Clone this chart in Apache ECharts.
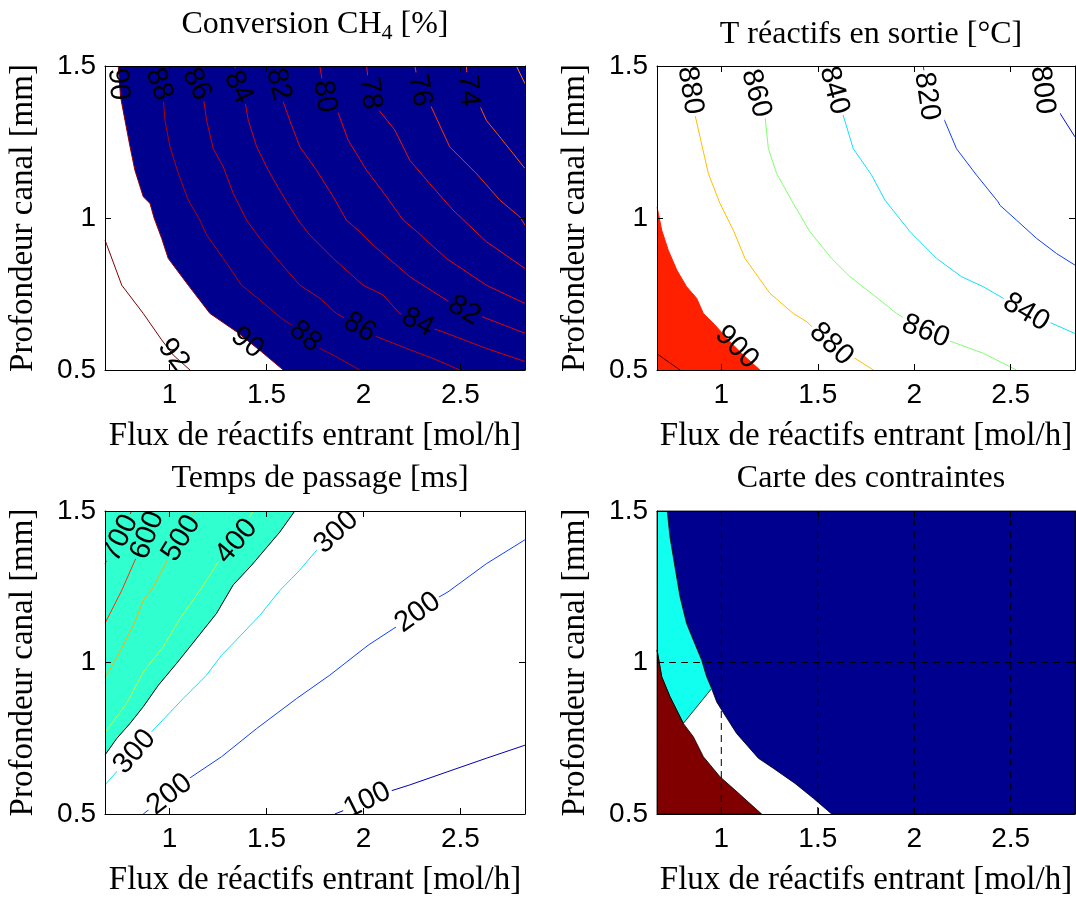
<!DOCTYPE html>
<html>
<head>
<meta charset="utf-8">
<title>Carte des contraintes</title>
<script src="https://cdn.jsdelivr.net/npm/echarts@6/dist/echarts.min.js"></script>
<style>
html, body { margin: 0; padding: 0; background: #fff; }
#chart { width: 1076px; height: 899px; }
</style>
</head>
<body>
<div id="chart"></div>
<script>
// axes (same for the 4 plots)
var xRange = [2 / 3, 17 / 6];
var yRange = [0.5, 1.5];
var xTicks = [1, 1.5, 2, 2.5];
var yTicks = [0.5, 1, 1.5];

// Conversion CH4 [%]
var convLevels = [92, 90, 88, 86, 84, 82, 80, 78, 76, 74, 72];
var convLines = [
  [[0.667,0.927],[0.753,0.779],[0.864,0.686],[0.959,0.599],[1.019,0.549],[1.105,0.5]],
  [[0.735,1.5],[0.747,1.398],[0.770,1.321],[0.796,1.234],[0.821,1.157],[0.864,1.070],[0.899,1.048],[0.920,1.0],[0.959,0.933],[0.993,0.867],[1.096,0.779],[1.208,0.686],[1.345,0.626],[1.474,0.560],[1.586,0.5]],
  [[0.924,1.5],[0.942,1.442],[0.967,1.398],[0.976,1.321],[1.002,1.234],[1.045,1.146],[1.096,1.059],[1.156,0.993],[1.191,0.944],[1.277,0.867],[1.371,0.779],[1.466,0.730],[1.577,0.670],[1.655,0.637],[1.775,0.571],[1.844,0.549],[1.981,0.5]],
  [[1.131,1.5],[1.139,1.442],[1.174,1.398],[1.191,1.321],[1.225,1.228],[1.277,1.168],[1.328,1.081],[1.397,0.993],[1.466,0.933],[1.552,0.867],[1.672,0.779],[1.775,0.736],[1.861,0.686],[1.981,0.640],[2.067,0.610],[2.222,0.571],[2.359,0.538],[2.497,0.5]],
  [[1.337,1.5],[1.354,1.431],[1.388,1.387],[1.406,1.321],[1.449,1.234],[1.509,1.157],[1.577,1.081],[1.663,0.993],[1.723,0.944],[1.844,0.867],[1.998,0.779],[2.101,0.747],[2.187,0.686],[2.282,0.655],[2.428,0.621],[2.634,0.571],[2.833,0.528]],
  [[1.552,1.5],[1.560,1.442],[1.577,1.398],[1.620,1.321],[1.672,1.234],[1.758,1.157],[1.844,1.070],[1.912,0.993],[1.981,0.955],[2.050,0.911],[2.239,0.807],[2.428,0.730],[2.522,0.695],[2.634,0.670],[2.833,0.621]],
  [[1.775,1.5],[1.801,1.398],[1.861,1.360],[1.921,1.256],[2.016,1.157],[2.119,1.070],[2.205,0.993],[2.256,0.966],[2.428,0.867],[2.634,0.779],[2.833,0.719]],
  [[2.016,1.5],[2.033,1.409],[2.067,1.365],[2.162,1.289],[2.239,1.190],[2.342,1.113],[2.462,1.026],[2.634,0.922],[2.833,0.834]],
  [[2.265,1.5],[2.290,1.420],[2.342,1.376],[2.445,1.234],[2.583,1.146],[2.703,1.059],[2.806,1.004],[2.833,0.977]],
  [[2.531,1.5],[2.540,1.420],[2.583,1.393],[2.634,1.321],[2.703,1.267],[2.772,1.212],[2.833,1.163]],
  [[2.789,1.5],[2.833,1.442]]
];
var convLabels = [
  [0.735,1.44,90],[0.945,1.44,88],[1.14,1.44,86],[1.354,1.43,84],[1.562,1.44,82],
  [1.80,1.40,80],[2.035,1.41,78],[2.29,1.42,76],[2.54,1.42,74],
  [1.02,0.55,92],[1.40,0.59,90],[1.70,0.61,88],[1.98,0.64,86],[2.28,0.657,84],[2.52,0.696,82]
];

// T réactifs en sortie [°C]
var tempLevels = [920, 900, 880, 860, 840, 820, 800];
var tempLines = [
  [[0.667,0.553],[0.786,0.5]],
  [[0.667,1.036],[0.691,0.960],[0.725,0.894],[0.769,0.829],[0.820,0.774],[0.872,0.736],[0.907,0.686],[0.967,0.648],[1.045,0.593],[1.114,0.549],[1.200,0.5]],
  [[0.824,1.5],[0.864,1.338],[0.933,1.146],[0.993,1.048],[1.062,0.960],[1.123,0.867],[1.252,0.752],[1.373,0.686],[1.442,0.659],[1.572,0.582],[1.667,0.549],[1.788,0.5]],
  [[1.157,1.5],[1.226,1.338],[1.244,1.228],[1.287,1.146],[1.373,1.048],[1.459,0.955],[1.572,0.867],[1.667,0.807],[1.788,0.747],[1.909,0.686],[2.055,0.626],[2.168,0.599],[2.358,0.555],[2.530,0.5]],
  [[1.563,1.5],[1.624,1.354],[1.684,1.228],[1.779,1.141],[1.848,1.059],[1.978,0.955],[2.047,0.911],[2.116,0.867],[2.245,0.807],[2.358,0.774],[2.461,0.736],[2.582,0.690],[2.677,0.664],[2.833,0.620]],
  [[2.047,1.5],[2.073,1.387],[2.150,1.332],[2.219,1.228],[2.323,1.141],[2.435,1.053],[2.444,1.042],[2.530,0.993],[2.634,0.933],[2.738,0.883],[2.833,0.845]],
  [[2.651,1.5],[2.668,1.415],[2.746,1.354],[2.833,1.267]]
];
var tempLabels = [
  [0.838,1.42,880],[1.18,1.41,860],[1.585,1.42,840],[2.065,1.40,820],[2.665,1.42,800],
  [1.08,0.575,900],[1.57,0.585,880],[2.06,0.627,860],[2.58,0.69,840]
];

// Temps de passage [ms]
var passLevels = [700, 600, 500, 400, 300, 200, 100];
var passLines = [
  [[0.667,1.326],[0.735,1.414],[0.804,1.5]],
  [[0.667,1.130],[0.753,1.238],[0.821,1.337],[0.881,1.414],[0.924,1.486],[0.942,1.5]],
  [[0.667,0.950],[0.744,1.035],[0.821,1.134],[0.864,1.205],[0.916,1.249],[0.993,1.343],[1.062,1.414],[1.105,1.475],[1.131,1.5]],
  [[0.667,0.770],[0.778,0.865],[0.864,0.969],[0.967,1.052],[1.053,1.145],[1.156,1.238],[1.251,1.332],[1.345,1.403],[1.397,1.464],[1.431,1.5]],
  [[0.667,0.596],[0.899,0.766],[1.070,0.881],[1.190,0.958],[1.268,1.024],[1.311,1.052],[1.466,1.156],[1.569,1.238],[1.663,1.299],[1.758,1.370],[1.861,1.431],[1.955,1.5]],
  [[0.864,0.5],[1.088,0.612],[1.268,0.689],[1.449,0.782],[1.655,0.881],[1.826,0.958],[2.024,1.057],[2.196,1.129],[2.376,1.211],[2.436,1.233],[2.634,1.326],[2.833,1.405]],
  [[1.852,0.5],[2.016,0.541],[2.101,0.568],[2.239,0.596],[2.436,0.640],[2.634,0.684],[2.833,0.727]]
];
var passEdge = [[1.646,1.5],[1.569,1.431],[1.423,1.321],[1.328,1.256],[1.242,1.162],[1.105,1.052],[1.036,0.997],[0.942,0.925],[0.864,0.854],[0.796,0.799],[0.727,0.749],[0.667,0.695]];
var passLabels = [
  [0.745,1.41,700],[0.885,1.42,600],[1.06,1.41,500],[1.345,1.40,400],
  [0.82,0.705,300],[1.86,1.43,300],[1.0,0.565,200],[2.28,1.165,200],[2.02,0.545,100]
];

// Carte des contraintes
var mapBlueEdge = [[0.720,1.5],[0.734,1.414],[0.760,1.315],[0.786,1.217],[0.820,1.129],[0.855,1.074],[0.898,1.008],[0.924,0.953],[0.950,0.914],[0.976,0.870],[1.002,0.843],[1.079,0.766],[1.192,0.684],[1.269,0.651],[1.382,0.601],[1.477,0.552],[1.572,0.5]];
var mapRedEdge = [[0.667,1.041],[0.691,0.953],[0.734,0.887],[0.803,0.799],[0.855,0.755],[0.907,0.689],[0.993,0.623],[1.071,0.579],[1.209,0.5]];
var mapGridX = [1, 1.5, 2, 2.5];
var mapGridY = [1];

// ---- styles ----
var serif = '"Liberation Serif", "Times New Roman", serif';
var sans = '"Liberation Sans", Arial, sans-serif';
var navy = '#00008F';
var convColors = ['#800000', '#900000', '#B00000', '#C40000', '#D40000', '#E40000', '#F00000', '#FF0800', '#FF3000', '#FF5400', '#FF7800'];
var tempColors = ['#500000', '#FF2000', '#FFBF00', '#80FF70', '#10DFFF', '#1040FF', '#0010D0'];
var passColors = ['#F00000', '#FF3000', '#FFB000', '#C0FF40', '#10DFFF', '#1040FF', '#0000B0'];

var grids = [
  { left: 105, top: 66, width: 420, height: 304 },
  { left: 657, top: 66, width: 418, height: 304 },
  { left: 105, top: 511, width: 420, height: 303 },
  { left: 657, top: 511, width: 418, height: 303 }
];

var xAxes = [], yAxes = [];
grids.forEach(function (g, i) {
  var tick = { inside: true, length: 6, lineStyle: { color: '#000', width: 1 } };
  var line = { onZero: false, lineStyle: { color: '#000', width: 1 } };
  xAxes.push({
    gridIndex: i, type: 'value', min: xRange[0], max: xRange[1], position: 'bottom', z: 10,
    axisLine: line,
    axisTick: Object.assign({ customValues: xTicks }, tick),
    axisLabel: { customValues: xTicks, color: '#000', fontFamily: sans, fontSize: 28, margin: 11 },
    splitLine: { show: false },
    name: 'Flux de réactifs entrant [mol/h]', nameLocation: 'middle', nameGap: 50,
    nameTextStyle: { fontFamily: serif, fontSize: 33, color: '#000' }
  });
  xAxes.push({
    gridIndex: i, type: 'value', min: xRange[0], max: xRange[1], position: 'top', z: 10,
    axisLine: line,
    axisTick: Object.assign({ customValues: xTicks }, tick),
    axisLabel: { show: false }, splitLine: { show: false }
  });
  yAxes.push({
    gridIndex: i, type: 'value', min: yRange[0], max: yRange[1], interval: 0.5, position: 'left', z: 10,
    axisLine: line,
    axisTick: Object.assign({ customValues: yTicks }, tick),
    axisLabel: { customValues: yTicks, color: '#000', fontFamily: sans, fontSize: 28, margin: 9 },
    splitLine: { show: false },
    name: 'Profondeur canal [mm]', nameLocation: 'middle', nameGap: 65,
    nameTextStyle: { fontFamily: serif, fontSize: 33, color: '#000' }
  });
  yAxes.push({
    gridIndex: i, type: 'value', min: yRange[0], max: yRange[1], interval: 0.5, position: 'right', z: 10,
    axisLine: line,
    axisTick: Object.assign({ customValues: yTicks }, tick),
    axisLabel: { show: false }, splitLine: { show: false }
  });
});

function fillSeries(i, pts, color, stroke) {
  return {
    type: 'custom', xAxisIndex: 2 * i, yAxisIndex: 2 * i, z: 1, silent: true,
    data: [pts[0]],
    renderItem: function (params, api) {
      return {
        type: 'polygon',
        shape: { points: pts.map(function (p) { return api.coord(p); }) },
        style: { fill: color, stroke: stroke || null, lineWidth: 0.8 }
      };
    }
  };
}

function lineSeries(i, pts, color, width, dash) {
  return {
    type: 'line', xAxisIndex: 2 * i, yAxisIndex: 2 * i, z: 3, silent: true,
    data: pts, symbol: 'none', showSymbol: false, animation: false,
    lineStyle: { color: color, width: width || 1, type: dash || 'solid' }
  };
}

function segDist(p, a, b) {
  var dx = b[0] - a[0], dy = b[1] - a[1];
  var t = ((p[0] - a[0]) * dx + (p[1] - a[1]) * dy) / (dx * dx + dy * dy || 1);
  t = Math.max(0, Math.min(1, t));
  var qx = a[0] + t * dx - p[0], qy = a[1] + t * dy - p[1];
  return qx * qx + qy * qy;
}

// contour labels, turned along the nearest piece of their line
function labelSeries(i, lines, levels, labels, bgOf) {
  return {
    type: 'custom', xAxisIndex: 2 * i, yAxisIndex: 2 * i, z: 6, silent: true, clip: true,
    data: labels,
    renderItem: function (params, api) {
      var lev = api.value(2);
      var p = api.coord([api.value(0), api.value(1)]);
      var best = null, bd = Infinity;
      lines.forEach(function (ln, k) {
        if (levels[k] !== lev) return;
        for (var j = 0; j < ln.length - 1; j++) {
          var a = api.coord(ln[j]), b = api.coord(ln[j + 1]);
          var d = segDist(p, a, b);
          if (d < bd) { bd = d; best = [a, b]; }
        }
      });
      var ang = Math.atan2(-(best[1][1] - best[0][1]), best[1][0] - best[0][0]);
      if (ang > Math.PI / 2) ang -= Math.PI;
      if (ang < -Math.PI / 2) ang += Math.PI;
      return {
        type: 'text', x: p[0], y: p[1], rotation: ang,
        style: {
          text: String(lev), font: '29px ' + sans, fill: '#000',
          align: 'center', verticalAlign: 'middle',
          backgroundColor: bgOf(lev), padding: [0, 2]
        }
      };
    }
  };
}

var series = [];
// plot 1
series.push(fillSeries(0, convLines[1].concat([[xRange[1], yRange[0]], [xRange[1], yRange[1]]]), navy));
convLines.forEach(function (ln, k) { series.push(lineSeries(0, ln, convColors[k])); });
series.push(labelSeries(0, convLines, convLevels, convLabels, function (v) { return v <= 88 ? navy : 'transparent'; }));
// plot 2
series.push(fillSeries(1, tempLines[1].concat([[xRange[0], yRange[0]]]), '#FF2000'));
tempLines.forEach(function (ln, k) { series.push(lineSeries(1, ln, tempColors[k])); });
series.push(labelSeries(1, tempLines, tempLevels, tempLabels, function (v) { return v >= 900 ? 'transparent' : '#fff'; }));
// plot 3
series.push(fillSeries(2, passEdge.concat([[xRange[0], yRange[1]]]), '#30FFCF'));
series.push(lineSeries(2, passEdge, '#000'));
passLines.forEach(function (ln, k) { series.push(lineSeries(2, ln, passColors[k])); });
series.push(labelSeries(2, passLines, passLevels, passLabels, function (v) { return v >= 400 ? '#30FFCF' : '#fff'; }));
// plot 4
series.push(fillSeries(3, mapBlueEdge.concat([[xRange[1], yRange[0]], [xRange[1], yRange[1]]]), navy, '#000'));
series.push(fillSeries(3, [[xRange[0], yRange[1]]].concat(mapBlueEdge.slice(0, 9), mapRedEdge.slice(0, 4).reverse()), '#10FFEF', '#000'));
series.push(fillSeries(3, mapRedEdge.concat([[xRange[0], yRange[0]]]), '#800000', '#000'));
mapGridX.forEach(function (x) { series.push(lineSeries(3, [[x, yRange[0]], [x, yRange[1]]], '#000', 1, [7, 5])); });
mapGridY.forEach(function (y) { series.push(lineSeries(3, [[xRange[0], y], [xRange[1], y]], '#000', 1, [7, 5])); });

var titleStyle = { fontFamily: serif, fontSize: 32, fontWeight: 'normal', color: '#000' };
var chart = echarts.init(document.getElementById('chart'), null, { renderer: 'canvas' });
chart.setOption({
  animation: false,
  backgroundColor: '#fff',
  title: [
    { text: 'Conversion CH{sub|4} [%]', left: 310, top: 0, textAlign: 'center',
      textStyle: Object.assign({ rich: { sub: { fontFamily: serif, fontSize: 22, padding: [17, 0, 0, 0] } } }, titleStyle) },
    { text: 'T réactifs en sortie [°C]', left: 866, top: 14, textAlign: 'center', textStyle: titleStyle },
    { text: 'Temps de passage [ms]', left: 315, top: 458, textAlign: 'center', textStyle: titleStyle },
    { text: 'Carte des contraintes', left: 866, top: 458, textAlign: 'center', textStyle: titleStyle }
  ],
  grid: grids,
  xAxis: xAxes,
  yAxis: yAxes,
  series: series
});
</script>
</body>
</html>
